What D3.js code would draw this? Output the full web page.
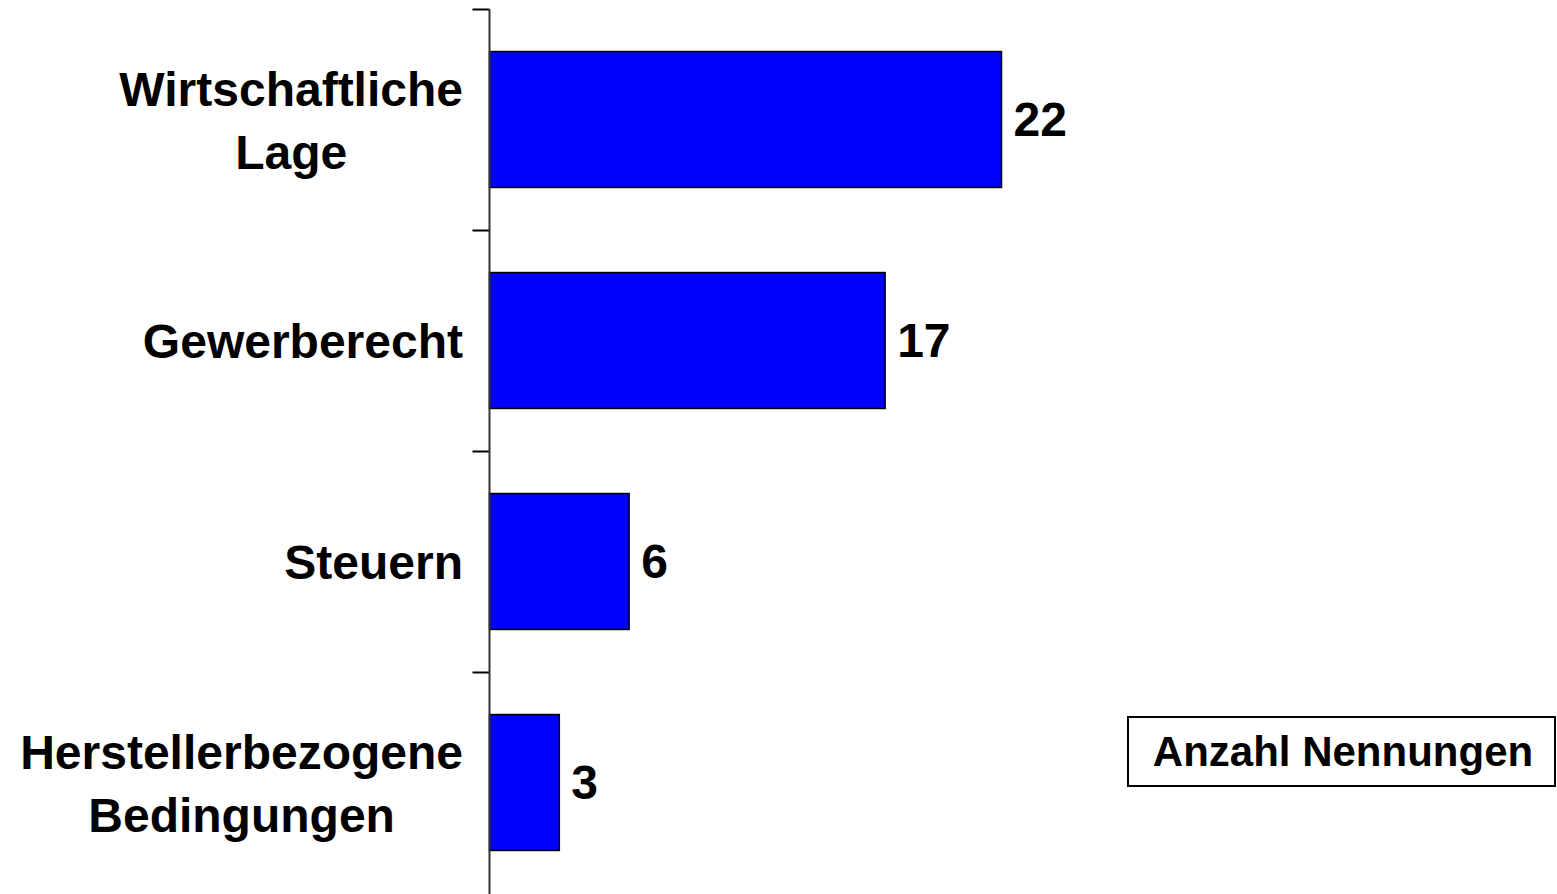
<!DOCTYPE html>
<html>
<head>
<meta charset="utf-8">
<script src="https://cdn.jsdelivr.net/npm/d3@7"></script>
<style>
html,body{margin:0;padding:0;background:#fff;}
svg{display:block;}
text{font-family:"Liberation Sans",Arial,sans-serif;font-weight:bold;fill:#000;}
</style>
</head>
<body>
<svg id="chart" width="1557" height="894"></svg>
<script>
const categories = ["Wirtschaftliche\nLage", "Gewerberecht", "Steuern", "Herstellerbezogene\nBedingungen"];
const values = [22, 17, 6, 3];
const legendLabel = "Anzahl Nennungen";

(function() {
const svg = d3.select("#chart");
const axisX = 489.5, plotTop = 9, plotBottom = 894;

const x = d3.scaleLinear().domain([0, 22]).range([axisX, 1001.5]);
const y = d3.scaleBand().domain(categories).range([plotTop, plotTop + 4 * 221])
  .paddingInner(0.385).paddingOuter(0.1925);
const yIdx = d3.scaleLinear().domain([0, categories.length]).range([plotTop, plotTop + 4 * 221]);

// bars
svg.selectAll("rect.bar").data(categories).join("rect")
  .attr("class", "bar")
  .attr("x", x(0))
  .attr("y", d => y(d))
  .attr("width", (d, i) => x(values[i]) - x(0))
  .attr("height", y.bandwidth())
  .attr("fill", "#0000ff")
  .attr("stroke", "#000")
  .attr("stroke-width", 1.5);

// axis
const axis = d3.axisLeft(yIdx).tickValues([0, 1, 2, 3]).tickSize(17).tickFormat("");
const ag = svg.append("g").attr("transform", `translate(${axisX},0)`).call(axis);
ag.select(".domain").remove();
ag.selectAll(".tick line").attr("stroke", "#000").attr("stroke-width", 2);
svg.append("line").attr("x1", axisX).attr("x2", axisX).attr("y1", plotTop).attr("y2", plotBottom)
  .attr("stroke", "#333").attr("stroke-width", 2);

// category labels
const lh = 63;
svg.selectAll("text.cat").data(categories).join("text")
  .attr("class", "cat")
  .attr("font-size", 48)
  .attr("text-anchor", "middle")
  .each(function(d) {
    const lines = d.split("\n");
    const t = d3.select(this);
    const cy = y(d) + y.bandwidth() / 2 + 1;
    lines.forEach((ln, j) => {
      t.append("tspan").attr("x", 0).attr("y", cy + (j - (lines.length - 1) / 2) * lh).attr("dy", "0.35em").text(ln);
    });
  });
svg.selectAll("text.cat").each(function() {
  const bb = this.getBBox();
  const shift = 463 - (bb.x + bb.width);
  d3.select(this).selectAll("tspan").attr("x", shift);
});

// value labels
svg.selectAll("text.val").data(categories).join("text")
  .attr("class", "val")
  .attr("font-size", 48)
  .attr("x", (d, i) => x(values[i]) + 12)
  .attr("y", d => y(d) + y.bandwidth() / 2)
  .attr("dy", "0.35em")
  .text((d, i) => values[i]);

// legend box
const lg = svg.append("g");
lg.append("rect").attr("x", 1128).attr("y", 717).attr("width", 427).attr("height", 69)
  .attr("fill", "#fff").attr("stroke", "#000").attr("stroke-width", 2);
lg.append("text").attr("x", 1343).attr("y", 751.5).attr("dy", "0.35em")
  .attr("text-anchor", "middle").attr("font-size", 42).text(legendLabel);
})();
</script>
</body>
</html>
